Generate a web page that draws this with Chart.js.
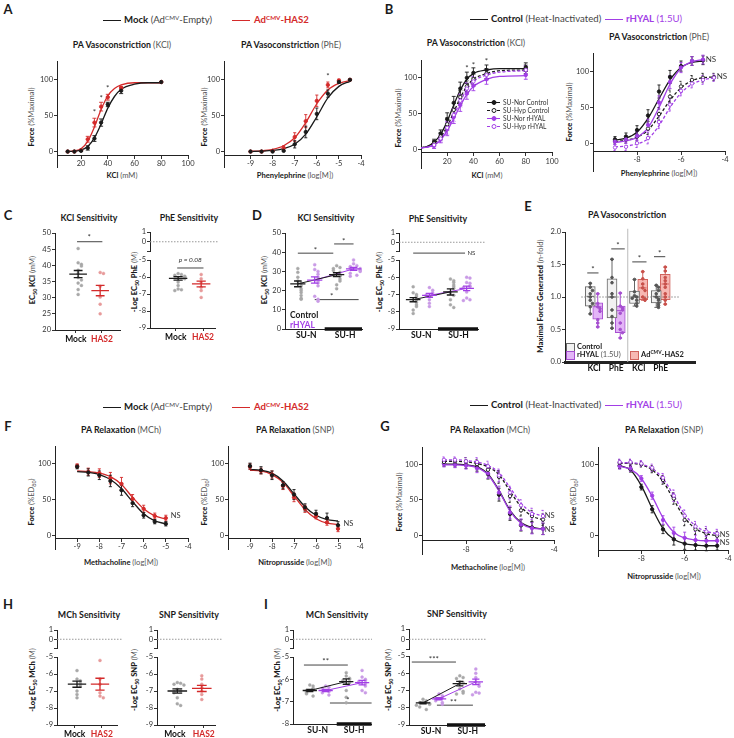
<!DOCTYPE html>
<html>
<head>
<meta charset="utf-8">
<title>PA vasoconstriction and relaxation</title>
<script src="https://cdn.jsdelivr.net/npm/chart.js@4.4.1/dist/chart.umd.min.js"></script>
<style>
  body { margin: 0; width: 734px; height: 738px; position: relative; overflow: hidden; background: #fff; font-family: Lato, "Open Sans", sans-serif; color: #1a1a1a; }
  canvas { position: absolute; }
  .t { position: absolute; white-space: nowrap; transform: translate(-50%, -50%); font-size: 8px; line-height: 1; }
  .r { transform: translate(-50%, -50%) rotate(-90deg); }
  .l { transform: translate(0, -50%); }
  .ttl { font-weight: bold; font-size: 8.8px; }
  .ttl span, .ax span { font-weight: normal; color: #555; }
  .ax { font-weight: bold; font-size: 7.6px; }
  .lt { font-weight: bold; font-size: 13px; }
  .lg { font-size: 9.6px; }
  .ln { position: absolute; height: 0; }
  sub { font-size: 70%; vertical-align: -2px; line-height: 0; }
  sup { font-size: 65%; vertical-align: 3px; line-height: 0; }
</style>
</head>
<body>
<script>
// ---------------- data ----------------
// A: Mock vs HAS2, PA vasoconstriction
const kclDoseA = [10, 15, 20, 25, 30, 35, 40, 50, 80];
const mockKclA = [0, 0, 1, 5, 18, 40, 65, 84, 96];
const mockKclAErr = [0, 0, 1, 3, 4, 5, 3, 4, 0];
const has2KclA = [0, 0, 2, 17, 40, 62, 75, 88, 96];
const has2KclAErr = [0, 0, 1, 4, 6, 6, 4, 2, 0];
const kclFitA = [10, 15, 20, 25, 30, 35, 40, 45, 50, 60, 70, 80];
const mockKclAFit = [0, 0.5, 2, 7, 19, 38, 60, 76, 86, 93, 95, 95];
const has2KclAFit = [0, 1, 4, 14, 34, 58, 77, 87, 92, 95, 95, 95];

const logDose = [-9, -8.5, -8, -7.5, -7, -6.5, -6, -5.5, -5, -4.5];
const mockPheA = [0, 0, 0, 1, 10, 27, 52, 80, 96, 99];
const mockPheAErr = [0, 0, 0, 1, 5, 8, 8, 5, 2, 1];
const has2PheA = [0, 0, 1, 5, 20, 42, 70, 92, 98, 99];
const has2PheAErr = [0, 0, 1, 3, 6, 9, 8, 4, 2, 1];
const mockPheAFit = [0, 0.5, 1.5, 4, 10, 24, 48, 74, 90, 97];
const has2PheAFit = [0.5, 1, 3, 8, 19, 40, 66, 85, 94, 98];

// B: Control vs rHYAL, SU-Nor / SU-Hyp
const kclDoseB = [10, 15, 20, 25, 30, 35, 40, 50, 80];
const norCtlKclB = [10, 22, 42, 65, 85, 100, 107, 111, 115];
const hypCtlKclB = [8, 18, 35, 55, 73, 88, 98, 106, 112];
const norRhKclB = [5, 14, 28, 45, 62, 78, 89, 98, 104];
const hypRhKclB = [6, 15, 30, 48, 68, 85, 95, 104, 111];
const kclErrB = [4, 5, 9, 9, 9, 8, 7, 7, 6];
const kclFitB = [0, 5, 10, 15, 20, 25, 30, 35, 40, 50, 60, 80];
const norCtlKclBFit = [2, 4, 10, 21, 39, 62, 83, 98, 106, 111, 113, 113];
const hypCtlKclBFit = [2, 4, 8, 17, 32, 52, 72, 88, 98, 106, 110, 111];
const norRhKclBFit = [2, 3, 6, 13, 26, 43, 61, 77, 88, 98, 102, 103];
const hypRhKclBFit = [2, 3, 6, 14, 28, 47, 67, 84, 95, 104, 108, 110];

const norCtlPheB = [6, 10, 19, 39, 72, 92, 107, 114, 115];
const norRhPheB = [3, 6, 11, 26, 57, 85, 105, 114, 116];
const hypCtlPheB = [4, 6, 10, 21, 41, 65, 79, 88, 91, 92];
const hypRhPheB = [-5, -4, 1, 8, 30, 54, 73, 83, 88, 91];
const pheErrB = [4, 5, 6, 8, 9, 9, 7, 6, 6, 5];
const norCtlPheBFit = [5, 8, 16, 35, 62, 88, 105, 112, 114];
const norRhPheBFit = [2, 4, 9, 22, 50, 82, 104, 113, 116];
const hypCtlPheBFit = [3, 5, 9, 19, 38, 60, 77, 87, 91, 92];
const hypRhPheBFit = [-4, -3, 0, 7, 25, 50, 70, 82, 88, 91];

// C: sensitivity, Mock vs HAS2
const c1Mock = [45.2, 40.8, 40.3, 39.8, 38.5, 37.5, 36.2, 35.5, 34.5, 33.8, 32.5, 31];
const c1Has2 = [37.8, 37.5, 33.5, 30.2, 28, 25];
const c1Mean = [37.3, 32.2];
const c1Sem = [1.1, 1.6];
const c2Mock = [-5.8, -5.85, -5.9, -5.95, -6.0, -6.05, -6.1, -6.3, -6.5, -6.7, -6.75, -6.8];
const c2Has2 = [-5.85, -6.1, -6.3, -6.6, -6.8, -7.2];
const c2Mean = [-6.08, -6.41];
const c2Sem = [0.1, 0.17];

// D: sensitivity, Control / rHYAL in SU-N and SU-H
const d1CtlN = [31.5, 29.5, 27, 25, 24, 22.5, 21, 20, 19, 17.5, 16, 15.5];
const d1RhN = [33.5, 31, 30, 28.5, 27, 26, 25, 24, 22.5, 17, 15.5, 14.5];
const d1CtlH = [33, 32, 31.5, 30.5, 29.5, 28, 27.5, 26, 25, 23, 21];
const d1RhH = [36, 34, 33, 32.5, 32, 31.5, 31, 30.5, 30, 29, 28, 27.5];
const d1Mean = [23.5, 25.5, 28.3, 31.3];
const d1Sem = [1.5, 1.6, 1.0, 0.8];
const d2CtlN = [-6.55, -6.9, -7.0, -7.1, -7.2, -7.3, -7.45, -7.6, -7.7, -7.9, -8.1];
const d2RhN = [-6.6, -6.75, -6.9, -7.0, -7.05, -7.3, -7.5, -7.7];
const d2CtlH = [-6.1, -6.2, -6.3, -6.45, -6.55, -6.65, -6.9, -7.05, -7.3, -7.6, -7.75];
const d2RhH = [-6.0, -6.05, -6.3, -6.35, -6.5, -6.55, -6.6, -6.85, -7.2, -7.3, -7.35];
const d2Mean = [-7.3, -7.05, -6.85, -6.65];
const d2Sem = [0.12, 0.12, 0.18, 0.13];

// E: maximal force generated (n-fold), box plots
const boxMin = [0.74, 0.54, 0.52, 0.37, 0.86, 0.95, 0.84, 0.89];
const boxQ1 = [0.86, 0.66, 0.68, 0.45, 0.90, 0.96, 0.91, 0.96];
const boxMed = [1.01, 0.85, 1.0, 0.79, 1.0, 1.14, 1.01, 1.2];
const boxQ3 = [1.16, 0.91, 1.28, 0.86, 1.09, 1.27, 1.10, 1.35];
const boxMax = [1.21, 1.05, 1.58, 1.06, 1.27, 1.39, 1.18, 1.46];
const boxPts = [
  [1.21, 1.15, 1.1, 1.05, 1.0, 0.95, 0.9, 0.85, 0.74],
  [1.05, 0.9, 0.85, 0.82, 0.78, 0.65, 0.6, 0.54],
  [1.58, 1.3, 1.22, 1.05, 1.0, 0.8, 0.7, 0.6, 0.52],
  [1.06, 0.86, 0.83, 0.8, 0.75, 0.6, 0.5, 0.45, 0.37],
  [1.27, 1.08, 1.02, 1.0, 0.98, 0.95, 0.9, 0.86],
  [1.39, 1.28, 1.2, 1.14, 1.1, 1.0, 0.97, 0.95],
  [1.18, 1.15, 1.1, 1.05, 1.0, 0.97, 0.95, 0.9, 0.87, 0.84],
  [1.46, 1.4, 1.3, 1.25, 1.2, 1.15, 1.05, 1.0, 0.95, 0.89]
];
const eLabels = ['KCl', 'PhE', 'KCl', 'PhE'];

// F: relaxation, Mock vs HAS2
const relaxDose = [-9, -8.5, -8, -7.5, -7, -6.5, -6, -5.5, -5];
const mockMchF = [96, 88, 84, 76, 63, 45, 28, 19, 16];
const mockMchFErr = [3, 5, 6, 8, 7, 5, 4, 3, 3];
const has2MchF = [97, 89, 87, 80, 72, 51, 37, 27, 24];
const has2MchFErr = [3, 5, 6, 8, 9, 6, 5, 4, 4];
const mockMchFFit = [89, 88, 85, 78, 65, 47, 30, 20, 16];
const has2MchFFit = [90, 89, 87, 82, 71, 53, 37, 27, 23];
const mockSnpF = [97, 91, 84, 70, 57, 39, 30, 24, 14];
const mockSnpFErr = [4, 5, 6, 5, 7, 5, 5, 7, 5];
const has2SnpF = [96, 90, 85, 69, 53, 37, 27, 18, 9];
const has2SnpFErr = [4, 4, 5, 5, 6, 5, 4, 4, 4];
const mockSnpFFit = [92, 91, 87, 76, 58, 40, 28, 22, 20];
const has2SnpFFit = [91, 90, 85, 74, 55, 36, 23, 17, 15];

// G: relaxation, Control vs rHYAL
const norCtlMchG = [101, 100, 99, 96, 86, 57, 30, 14, 11, 9];
const norRhMchG = [100, 99, 98, 94, 87, 60, 32, 15, 10, 9];
const hypCtlMchG = [103, 104, 104, 100, 92, 82, 55, 35, 27, 22];
const hypRhMchG = [106, 106, 104, 103, 97, 84, 60, 42, 30, 27];
const mchErrG = [4, 4, 5, 6, 7, 9, 9, 8, 8, 8];
const norCtlMchGFit = [100, 100, 99, 96, 86, 63, 35, 18, 11, 9];
const norRhMchGFit = [99, 99, 98, 95, 85, 62, 34, 17, 10, 9];
const hypCtlMchGFit = [104, 104, 103, 101, 96, 85, 62, 40, 27, 22];
const hypRhMchGFit = [106, 106, 105, 103, 98, 88, 67, 45, 32, 27];
const norCtlSnpG = [98, 93, 68, 37, 9, -5, -11, -13, -14, -14];
const norRhSnpG = [97, 94, 80, 56, 22, 4, -3, -6, -7, -7];
const hypCtlSnpG = [102, 102, 100, 93, 78, 52, 22, 9, 3, 0];
const hypRhSnpG = [103, 103, 101, 95, 81, 56, 28, 13, 6, 3];
const snpErrG = [4, 4, 4, 5, 6, 8, 8, 7, 7, 6];
const norCtlSnpGFit = [98, 92, 70, 38, 10, -5, -11, -13, -14, -14];
const norRhSnpGFit = [97, 93, 80, 55, 25, 5, -3, -6, -7, -7];
const hypCtlSnpGFit = [101, 101, 99, 92, 76, 50, 25, 10, 3, 0];
const hypRhSnpGFit = [102, 102, 100, 94, 80, 56, 30, 14, 6, 3];

// H: relaxation sensitivity, Mock vs HAS2
const h1Mock = [-5.8, -6.3, -6.4, -6.55, -6.7, -7.0, -7.2, -7.4];
const h1Has2 = [-5.2, -6.3, -6.6, -7.1, -7.3, -7.4];
const h1Mean = [-6.6, -6.6];
const h1Sem = [0.18, 0.35];
const h2Mock = [-6.5, -6.55, -6.6, -6.65, -6.9, -7.0, -7.05, -7.1, -7.4, -7.75, -7.85];
const h2Has2 = [-6.1, -6.3, -6.6, -6.8, -7.0, -7.2, -7.5];
const h2Mean = [-7.0, -6.85];
const h2Sem = [0.13, 0.18];

// I: relaxation sensitivity, Control / rHYAL
const i1CtlN = [-6.25, -6.3, -6.4, -6.45, -6.5, -6.55, -6.6, -6.65, -6.75];
const i1RhN = [-6.3, -6.35, -6.4, -6.5, -6.55, -6.6, -6.7];
const i1CtlH = [-5.7, -5.85, -5.95, -6.0, -6.05, -6.15, -6.5, -6.8, -7.05];
const i1RhH = [-5.6, -5.9, -6.0, -6.05, -6.1, -6.2, -6.3, -6.5, -6.6];
const i1Mean = [-6.5, -6.5, -6.1, -6.15];
const i1Sem = [0.05, 0.05, 0.12, 0.1];
const i2CtlN = [-7.5, -7.6, -7.7, -7.7, -7.75, -7.8, -7.85, -7.95, -8.1];
const i2RhN = [-7.2, -7.3, -7.4, -7.45, -7.5, -7.6, -7.7, -7.8];
const i2CtlH = [-6.15, -6.25, -6.3, -6.5, -6.55, -6.9, -7.05, -7.15, -7.2];
const i2RhH = [-5.75, -6.0, -6.25, -6.5, -6.6, -6.75, -7.1, -7.15, -7.25];
const i2Mean = [-7.72, -7.48, -6.6, -6.5];
const i2Sem = [0.05, 0.06, 0.13, 0.16];

// ---------------- helpers ----------------
const BLK = '#1a1a1a', RED = '#d42a2a', PUR = '#a23ee6';
const GRY_PT = '#a8a8a8', RED_PT = '#e79a9a', PUR_PT = '#c99be6';

Chart.defaults.font.family = 'Lato';
Chart.register({
  id: 'notes',
  afterDatasetsDraw(chart) {
    const items = chart.canvas._notes || [];
    const ctx = chart.ctx, xs = chart.scales.x, ys = chart.scales.y;
    ctx.save();
    items.forEach(n => {
      ctx.font = (n.w || '') + ' ' + (n.s || 8) + 'px Lato';
      ctx.fillStyle = n.c || '#333';
      ctx.textAlign = n.a || 'center';
      ctx.textBaseline = 'middle';
      ctx.fillText(n.t, xs.getPixelForValue(n.x), ys.getPixelForValue(n.y));
    });
    ctx.restore();
  }
});

function txt(html, x, y, cls, size) {
  const d = document.createElement('div');
  d.className = 't ' + (cls || '');
  d.innerHTML = html;
  d.style.left = x + 'px';
  d.style.top = y + 'px';
  if (size) d.style.fontSize = size + 'px';
  document.body.appendChild(d);
  return d;
}
function hline(x1, x2, y, color, dash) {
  const d = document.createElement('div');
  d.className = 'ln';
  d.style.cssText += `left:${x1}px;top:${y}px;width:${x2 - x1}px;border-top:1.4px ${dash ? 'dashed' : 'solid'} ${color}`;
  document.body.appendChild(d);
}

const YW = 22;
function plot(area, o) {
  const [l, t, r, b] = area;
  const pt = o.pt ?? 8, pr = o.pr ?? 10, pb = o.pb ?? 0;
  const xH = (o.xAt === undefined && !o.noX) ? (o.xH ?? 15) : 0;
  const w = r - l + YW + pr, h = b - t + pt + xH + pb;
  const c = document.createElement('canvas');
  c.width = w; c.height = h;
  Object.assign(c.style, {left: (l - YW) + 'px', top: (t - pt) + 'px', width: w + 'px', height: h + 'px'});
  c._notes = o.notes || [];
  document.body.appendChild(c);
  const tf = {size: 7.5};
  return new Chart(c, {
    type: 'scatter',
    data: {datasets: o.datasets},
    options: {
      responsive: false,
      animation: false,
      layout: {padding: {top: pt, right: pr, bottom: pb, left: 0}},
      plugins: {legend: {display: false}, tooltip: {enabled: false}},
      scales: {
        x: {
          type: 'linear', min: o.x[0], max: o.x[1], display: !o.noX,
          position: o.xAt === undefined ? 'bottom' : {y: o.xAt},
          afterBuildTicks: s => { s.ticks = (o.xTicks || []).map(v => ({value: v})); },
          afterFit: s => { if (o.xAt === undefined) s.height = xH; },
          grid: {drawOnChartArea: false, tickLength: o.xTickLen ?? 3, color: '#333'},
          border: {color: '#222', width: o.xBorder || 1},
          ticks: {font: o.xFont || tf, color: o.xColor || '#333', padding: 1, maxRotation: 0, autoSkip: false,
                  callback: o.xLabel || (v => v)}
        },
        y: {
          type: 'linear', min: o.y[0], max: o.y[1],
          afterBuildTicks: s => { s.ticks = o.yTicks.map(v => ({value: v})); },
          afterFit: s => { s.width = YW; },
          grid: {drawOnChartArea: false, tickLength: 3, color: '#333'},
          border: {color: '#222'},
          ticks: {font: tf, color: '#333', padding: 1, autoSkip: false, callback: o.yLabel || (v => String(v))}
        }
      }
    }
  });
}

const P = (xs, ys) => xs.map((x, i) => ({x, y: ys[i]})).filter(p => p.y !== undefined);
function fitLine(xs, ys, color, dash) {
  return {data: P(xs, ys), showLine: true, borderColor: color, borderWidth: 1.3, borderDash: dash ? [3, 2] : [],
          pointRadius: 0, cubicInterpolationMode: 'monotone', order: 3};
}
function errBars(xs, ys, es, color, cap, dash) {
  const d = [];
  xs.forEach((x, i) => {
    if (ys[i] === undefined || !es[i]) return;
    const lo = ys[i] - es[i], hi = ys[i] + es[i];
    d.push({x, y: lo}, {x, y: hi}, {x, y: null},
           {x: x - cap, y: hi}, {x: x + cap, y: hi}, {x, y: null},
           {x: x - cap, y: lo}, {x: x + cap, y: lo}, {x, y: null});
  });
  return {data: d, showLine: true, spanGaps: false, borderColor: color, borderWidth: 0.9,
          borderDash: dash ? [2, 1.5] : [], pointRadius: 0, order: 1};
}
function dots(xs, ys, color, open) {
  return {data: P(xs, ys), pointRadius: 1.7, pointBackgroundColor: open ? '#fff' : color,
          pointBorderColor: color, pointBorderWidth: 0.9, order: 0};
}
function seg(x1, x2, y, color, w, dash) {
  return {data: [{x: x1, y}, {x: x2, y}], showLine: true, borderColor: color || '#444', borderWidth: w || 1,
          borderDash: dash || [], pointRadius: 0, clip: false, order: 4};
}
function link(x1, y1, x2, y2, color) {
  return {data: [{x: x1, y: y1}, {x: x2, y: y2}], showLine: true, borderColor: color, borderWidth: 1, pointRadius: 0, order: 1};
}

function dose(area, o, groups) {
  const ds = [];
  groups.forEach(g => {
    ds.push(fitLine(g.fx, g.fy, g.c, g.dash));
    ds.push(errBars(g.x, g.y, g.e, g.c, o.cap, g.dash));
    ds.push(dots(g.x, g.y, g.c, g.open));
  });
  return plot(area, Object.assign({}, o, {datasets: ds}));
}

function swarm(vals, tol, dx) {
  const placed = [];
  return vals.map(v => {
    const k = placed.filter(p => Math.abs(p - v) < tol).length;
    placed.push(v);
    return k === 0 ? 0 : (k % 2 ? 1 : -1) * Math.ceil(k / 2) * dx;
  });
}
function dotPanel(area, o) {
  const [l, t, r, b] = area;
  const tol = 3.2 * (o.y[1] - o.y[0]) / (b - t);
  const dx = 3.3 * (o.x[1] - o.x[0]) / (r - l);
  const mw = o.mw || 0.4, cw = mw / 2;
  const ds = [];
  o.groups.forEach(g => {
    const off = swarm(g.v, tol, dx);
    ds.push({data: g.v.map((v, i) => ({x: g.x + off[i], y: v})), pointRadius: 1.5,
             pointBackgroundColor: g.pc, pointBorderColor: g.pc, pointBorderWidth: 0.4, order: 2});
    const x = g.x, m = g.m, s = g.s;
    ds.push({data: [{x: x - mw, y: m}, {x: x + mw, y: m}, {x, y: null},
                    {x, y: m - s}, {x, y: m + s}, {x, y: null},
                    {x: x - cw, y: m + s}, {x: x + cw, y: m + s}, {x, y: null},
                    {x: x - cw, y: m - s}, {x: x + cw, y: m - s}],
             showLine: true, spanGaps: false, borderColor: g.lc, borderWidth: 1.3, pointRadius: 0, order: 0});
  });
  (o.extra || []).forEach(d => ds.push(d));
  return plot(area, Object.assign({}, o, {datasets: ds}));
}
function topCap(area) {
  return plot(area, {x: [0, 1], y: [-1, 1], noX: true, yTicks: [1, 0, -1], pt: 6, pb: 4, pr: 2,
                     yLabel: v => (v === -1 ? '' : String(v)),
                     datasets: [seg(0, 1, 0, '#999', 1, [1.5, 1.5])]});
}
const mhFont = {size: 8.5, weight: 'bold'};
const mhColor = c => (c.index === 1 ? RED : '#111');
const mhLabel = v => (v < 1.5 ? 'Mock' : 'HAS2');
const mhTicks = [0.9, 2.08];
const suLabel = v => (v < 2.5 ? 'SU-N' : 'SU-H');

// ---------------- panel letters, titles, legends ----------------
[['A', 8, 9], ['B', 389, 9], ['C', 8, 215], ['D', 257, 215], ['E', 528, 206],
 ['F', 8, 426], ['G', 385, 426], ['H', 8, 604], ['I', 266, 604]].forEach(p => txt(p[0], p[1], p[2], 'lt'));

function legendMH(y) {
  hline(103, 121, y, BLK);
  txt('<b>Mock</b> <span style="color:#444">(Ad<sup>CMV</sup>-Empty)</span>', 124, y, 'l lg');
  hline(232, 250, y, RED);
  txt('<b style="color:' + RED + '">Ad<sup>CMV</sup>-HAS2</b>', 254, y, 'l lg');
}
function legendRH(y) {
  hline(470, 488, y, BLK);
  txt('<b>Control</b> <span style="color:#444">(Heat-Inactivated)</span>', 491, y, 'l lg');
  hline(605, 623, y, PUR);
  txt('<span style="color:' + PUR + '"><b>rHYAL</b> (1.5U)</span>', 626, y, 'l lg');
}
legendMH(20); legendRH(19); legendMH(407); legendRH(405);

const titles = [
  ['PA Vasoconstriction <span>(KCl)</span>', 122, 45], ['PA Vasoconstriction <span>(PhE)</span>', 291, 45],
  ['PA Vasoconstriction <span>(KCl)</span>', 476, 43], ['PA Vasoconstriction <span>(PhE)</span>', 659, 37],
  ['KCl Sensitivity', 89, 218], ['PhE Sensitivity', 189, 218], ['KCl Sensitivity', 326, 218],
  ['PhE Sensitivity', 438, 219], ['PA Vasoconstriction', 627, 215],
  ['PA Relaxation <span>(MCh)</span>', 121, 430], ['PA Relaxation <span>(SNP)</span>', 295, 430],
  ['PA Relaxation <span>(MCh)</span>', 490, 430], ['PA Relaxation <span>(SNP)</span>', 664, 430],
  ['MCh Sensitivity', 89, 615], ['SNP Sensitivity', 189, 615], ['MCh Sensitivity', 337, 615],
  ['SNP Sensitivity', 457, 614]
];
titles.forEach(t => txt(t[0], t[1], t[2], 'ttl'));

const xTitles = [
  ['KCl <span>(mM)</span>', 122, 176], ['Phenylephrine <span>(log[M])</span>', 295, 176],
  ['KCl <span>(mM)</span>', 487, 176], ['Phenylephrine <span>(log[M])</span>', 659, 174],
  ['Methacholine <span>(log[M])</span>', 121, 563], ['Nitroprusside <span>(log[M])</span>', 295, 563],
  ['Methacholine <span>(log[M])</span>', 488, 568], ['Nitroprusside <span>(log[M])</span>', 664, 577]
];
xTitles.forEach(t => txt(t[0], t[1], t[2], 'ax'));

const ec = (drug, unit) => '<b>EC<sub>50</sub> ' + drug + '</b> <span>(' + unit + ')</span>';
const lg = drug => '<b>-Log EC<sub>50</sub> ' + drug + '</b> <span>(M)</span>';
const yTitles = [
  ['<b>Force</b> <span>(%Maximal)</span>', 32, 117], ['<b>Force</b> <span>(%Maximal)</span>', 205, 117],
  ['<b>Force</b> <span>(%Maximal)</span>', 399, 118], ['<b>Force</b> <span>(%Maximal)</span>', 570, 112],
  [ec('KCl', 'mM'), 33, 280], [lg('PhE'), 135, 282], [ec('KCl', 'mM'), 265, 280], [lg('PhE'), 380, 282],
  ['<b>Maximal Force Generated</b> <span>(n-fold)</span>', 541, 296],
  ['<b>Force</b> <span>(%ED<sub>80</sub>)</span>', 32, 502], ['<b>Force</b> <span>(%ED<sub>80</sub>)</span>', 205, 502],
  ['<b>Force</b> <span>(%Maximal)</span>', 400, 502], ['<b>Force</b> <span>(%ED<sub>80</sub>)</span>', 574, 502],
  [lg('MCh'), 33, 680], [lg('SNP'), 135, 680], [lg('MCh'), 278, 680], [lg('SNP'), 389, 680]
];
yTitles.forEach(t => txt(t[0], t[1], t[2], 'ax r'));

// ---------------- A ----------------
dose([57, 61, 188, 173], {x: [2, 100], y: [-22, 125], xAt: -5, xTicks: [20, 40, 60, 80, 100], yTicks: [0, 50, 100], cap: 1.5,
  notes: [{x: 30, y: 54, t: '*'}, {x: 35, y: 74, t: '*'}, {x: 40, y: 87, t: '*'}]}, [
  {fx: kclFitA, fy: mockKclAFit, x: kclDoseA, y: mockKclA, e: mockKclAErr, c: BLK},
  {fx: kclFitA, fy: has2KclAFit, x: kclDoseA, y: has2KclA, e: has2KclAErr, c: RED}
]);
dose([224, 61, 361, 173], {x: [-10.2, -4], y: [-22, 125], xAt: -5, xTicks: [-9, -8, -7, -6, -5, -4], yTicks: [0, 50, 100], cap: 0.07,
  notes: [{x: -5.5, y: 104, t: '*'}]}, [
  {fx: logDose, fy: mockPheAFit, x: logDose, y: mockPheA, e: mockPheAErr, c: BLK},
  {fx: logDose, fy: has2PheAFit, x: logDose, y: has2PheA, e: has2PheAErr, c: RED}
]);

// ---------------- B ----------------
dose([421, 60, 552, 174], {x: [0, 100], y: [-27, 125], xAt: -5, xTicks: [20, 40, 60, 80, 100], yTicks: [0, 50, 100], cap: 1.5,
  notes: [{x: 35, y: 113, t: '*'}, {x: 40, y: 118, t: '*'}, {x: 50, y: 123, t: '*'}]}, [
  {fx: kclFitB, fy: hypRhKclBFit, x: kclDoseB, y: hypRhKclB, e: kclErrB, c: PUR, dash: true, open: true},
  {fx: kclFitB, fy: norRhKclBFit, x: kclDoseB, y: norRhKclB, e: kclErrB, c: PUR},
  {fx: kclFitB, fy: hypCtlKclBFit, x: kclDoseB, y: hypCtlKclB, e: kclErrB, c: BLK, dash: true, open: true},
  {fx: kclFitB, fy: norCtlKclBFit, x: kclDoseB, y: norCtlKclB, e: kclErrB, c: BLK}
]);
// inner legend of B
[['SU-Nor Control', BLK, false], ['SU-Hyp Control', BLK, true], ['SU-Nor rHYAL', PUR, false], ['SU-Hyp rHYAL', PUR, true]]
  .forEach((e, i) => {
    const y = 102 + i * 8;
    hline(487, 500, y, e[1], e[2]);
    txt('<span style="display:inline-block;width:3px;height:3px;border-radius:50%;border:1px solid ' + e[1] + ';background:' + (e[2] ? '#fff' : e[1]) + '"></span>', 493.5, y, '');
    txt(e[0], 503, y, 'l', 6.6).style.color = '#333';
  });
dose([593, 53, 725, 177], {x: [-10, -4], y: [-38, 125], xAt: -10, xTicks: [-8, -6, -4], yTicks: [0, 50, 100], cap: 0.07, pr: 9,
  notes: [{x: -4.88, y: 116, t: 'NS', a: 'left'}, {x: -4.38, y: 93, t: 'NS', a: 'left'}]}, [
  {fx: logDose, fy: hypRhPheBFit, x: logDose, y: hypRhPheB, e: pheErrB, c: PUR, dash: true, open: true},
  {fx: logDose, fy: norRhPheBFit, x: logDose, y: norRhPheB, e: pheErrB, c: PUR},
  {fx: logDose, fy: hypCtlPheBFit, x: logDose, y: hypCtlPheB, e: pheErrB, c: BLK, dash: true, open: true},
  {fx: logDose, fy: norCtlPheBFit, x: logDose, y: norCtlPheB, e: pheErrB, c: BLK}
]);

// ---------------- C ----------------
dotPanel([55, 233, 120, 330], {x: [-0.05, 2.9], y: [20, 50], yTicks: [20, 25, 30, 35, 40, 45, 50],
  xTicks: mhTicks, xLabel: mhLabel, xFont: mhFont, xColor: mhColor,
  groups: [{x: 1, v: c1Mock, m: c1Mean[0], s: c1Sem[0], pc: GRY_PT, lc: BLK},
           {x: 2, v: c1Has2, m: c1Mean[1], s: c1Sem[1], pc: RED_PT, lc: RED}],
  extra: [seg(0.95, 2.1, 47.3)], notes: [{x: 1.5, y: 48.6, t: '*'}]});
topCap([150, 232, 218, 253]);
dotPanel([150, 260, 215, 328], {x: [-0.22, 2.6], y: [-9, -5], yTicks: [-9, -8, -7, -6, -5],
  xTicks: mhTicks, xLabel: mhLabel, xFont: mhFont, xColor: mhColor, pt: 10,
  groups: [{x: 1, v: c2Mock, m: c2Mean[0], s: c2Sem[0], pc: GRY_PT, lc: BLK},
           {x: 2, v: c2Has2, m: c2Mean[1], s: c2Sem[1], pc: RED_PT, lc: RED}],
  extra: [seg(0.96, 2.1, -5.47)], notes: [{x: 1.53, y: -5.0, t: 'p = 0.08', s: 6.5, w: 'italic'}]});

// ---------------- D ----------------
const suBar = (a, b, y) => seg(a, b, y, '#111', 3.5);
dotPanel([285, 233, 362, 329], {x: [0.24, 4.8], y: [0, 50], yTicks: [0, 10, 20, 30, 40, 50], mw: 0.45,
  xTicks: [1.5, 3.8], xLabel: suLabel, xFont: {size: 8.5, weight: 'bold'}, xColor: '#111', xTickLen: 0,
  groups: [{x: 1, v: d1CtlN, m: d1Mean[0], s: d1Sem[0], pc: GRY_PT, lc: BLK},
           {x: 2, v: d1RhN, m: d1Mean[1], s: d1Sem[1], pc: PUR_PT, lc: PUR},
           {x: 3.3, v: d1CtlH, m: d1Mean[2], s: d1Sem[2], pc: GRY_PT, lc: BLK},
           {x: 4.3, v: d1RhH, m: d1Mean[3], s: d1Sem[3], pc: PUR_PT, lc: PUR}],
  extra: [link(1, d1Mean[0], 3.3, d1Mean[2], BLK), link(2, d1Mean[1], 4.3, d1Mean[3], PUR),
          seg(1.0, 3.1, 39.5), seg(3.15, 4.3, 44.3), seg(2.0, 4.6, 15.3), suBar(2.59, 4.8, 0)],
  notes: [{x: 2.05, y: 41, t: '*'}, {x: 3.72, y: 45.8, t: '*'}, {x: 3.0, y: 16.8, t: '*'}]});
txt('<b>Control</b>', 290, 315, 'l', 8.5);
txt('<b style="color:' + PUR + '">rHYAL</b>', 290, 325, 'l', 8.5);
topCap([399, 233, 485, 253]);
dotPanel([399, 260, 478, 329], {x: [0.125, 5], y: [-9, -5], yTicks: [-9, -8, -7, -6, -5], mw: 0.45, pt: 10,
  xTicks: [1.5, 3.8], xLabel: suLabel, xFont: {size: 8.5, weight: 'bold'}, xColor: '#111', xTickLen: 0,
  groups: [{x: 1, v: d2CtlN, m: d2Mean[0], s: d2Sem[0], pc: GRY_PT, lc: BLK},
           {x: 2, v: d2RhN, m: d2Mean[1], s: d2Sem[1], pc: PUR_PT, lc: PUR},
           {x: 3.3, v: d2CtlH, m: d2Mean[2], s: d2Sem[2], pc: GRY_PT, lc: BLK},
           {x: 4.3, v: d2RhH, m: d2Mean[3], s: d2Sem[3], pc: PUR_PT, lc: PUR}],
  extra: [link(1, d2Mean[0], 3.3, d2Mean[2], BLK), link(2, d2Mean[1], 4.3, d2Mean[3], PUR),
          seg(1.0, 4.2, -4.6), suBar(2.53, 5, -9)],
  notes: [{x: 4.35, y: -4.6, t: 'NS', a: 'left', s: 6}]});

// ---------------- E ----------------
const boxX = [1.2, 2.2, 4.1, 5.2, 7.1, 8.2, 10.0, 11.2];
const boxKind = [0, 1, 0, 1, 0, 2, 0, 2];
const boxFill = ['#f2f2f2', '#e3b5f7', '#f7b7b2'], boxLine = ['#666', '#a64fd0', '#d0625c'], boxPt = ['#555', '#a64fd0', '#c8504a'];
const eDs = [];
[0, 1, 2].forEach(k => {
  const idx = boxX.map((x, i) => i).filter(i => boxKind[i] === k);
  eDs.push({type: 'bar', data: idx.map(i => ({x: boxX[i], y: [boxQ1[i], boxQ3[i]]})), barThickness: 10, grouped: false,
            backgroundColor: boxFill[k], borderColor: boxLine[k], borderWidth: 1, borderSkipped: false, order: 5});
  const wd = [];
  idx.forEach(i => {
    const x = boxX[i];
    wd.push({x, y: boxMin[i]}, {x, y: boxQ1[i]}, {x, y: null}, {x, y: boxQ3[i]}, {x, y: boxMax[i]}, {x, y: null},
            {x: x - 0.25, y: boxMin[i]}, {x: x + 0.25, y: boxMin[i]}, {x, y: null},
            {x: x - 0.25, y: boxMax[i]}, {x: x + 0.25, y: boxMax[i]}, {x, y: null},
            {x: x - 0.5, y: boxMed[i]}, {x: x + 0.5, y: boxMed[i]}, {x, y: null});
  });
  eDs.push({data: wd, showLine: true, spanGaps: false, borderColor: boxLine[k], borderWidth: 1, pointRadius: 0, order: 1});
  idx.forEach(i => {
    const off = swarm(boxPts[i], 0.05, 0.3);
    eDs.push({data: boxPts[i].map((v, j) => ({x: boxX[i] + off[j], y: v})), pointRadius: 1.3,
              pointBackgroundColor: boxPt[k], pointBorderColor: boxPt[k], order: 0});
  });
});
eDs.push(seg(0, 13, 1, '#888', 1, [1.5, 1.5]));
eDs.push({data: [{x: 6.2, y: 0}, {x: 6.2, y: 2.05}], showLine: true, borderColor: '#bbb', borderWidth: 1, pointRadius: 0, clip: false, order: 6});
eDs.push(seg(0.8, 2.3, 1.37), seg(4.0, 5.8, 1.74), seg(6.8, 8.7, 1.54), seg(9.7, 11.2, 1.62));
plot([565, 232, 695, 362], {x: [0, 13], y: [0, 2], yTicks: [0, 0.5, 1, 1.5, 2], yLabel: v => v.toFixed(1),
  xTicks: [1.7, 4.65, 7.65, 10.6], xLabel: (v, i) => eLabels[i], xFont: {size: 8.5, weight: 'bold'}, xColor: '#111',
  xTickLen: 0, xBorder: 3, xH: 16, datasets: eDs,
  notes: [{x: 1.55, y: 1.42, t: '*'}, {x: 4.9, y: 1.79, t: '*'}, {x: 7.75, y: 1.59, t: '*'}, {x: 10.45, y: 1.67, t: '*'}]});
function eKey(x, y, k, html) {
  const d = document.createElement('div');
  d.className = 'ln';
  d.style.cssText += `left:${x}px;top:${y - 4}px;width:7px;height:7px;background:${boxFill[k]};border:1px solid ${boxLine[k]}`;
  document.body.appendChild(d);
  txt(html, x + 11, y, 'l', 7.5);
}
eKey(566, 347, 0, '<b>Control</b>');
eKey(566, 355, 1, '<b>rHYAL</b> <span style="color:#555">(1.5U)</span>');
eKey(630, 355, 2, '<b>Ad<sup>CMV</sup>-HAS2</b>');

// ---------------- F ----------------
dose([55, 446, 188, 555], {x: [-10, -4], y: [-20, 125], xAt: -4, xTicks: [-9, -8, -7, -6, -5, -4], yTicks: [0, 50, 100], cap: 0.07,
  notes: [{x: -4.78, y: 27, t: 'NS', a: 'left', s: 7.5}]}, [
  {fx: relaxDose, fy: mockMchFFit, x: relaxDose, y: mockMchF, e: mockMchFErr, c: BLK},
  {fx: relaxDose, fy: has2MchFFit, x: relaxDose, y: has2MchF, e: has2MchFErr, c: RED}
]);
dose([228, 446, 360, 555], {x: [-10, -4], y: [-20, 125], xAt: -4, xTicks: [-9, -8, -7, -6, -5, -4], yTicks: [0, 50, 100], cap: 0.07,
  notes: [{x: -4.75, y: 17, t: 'NS', a: 'left', s: 7.5}]}, [
  {fx: relaxDose, fy: mockSnpFFit, x: relaxDose, y: mockSnpF, e: mockSnpFErr, c: BLK},
  {fx: relaxDose, fy: has2SnpFFit, x: relaxDose, y: has2SnpF, e: has2SnpFErr, c: RED}
]);

// ---------------- G ----------------
dose([422, 447, 554, 560], {x: [-10, -4], y: [-27, 124], xAt: -8, xTicks: [-8, -6, -4], yTicks: [0, 50, 100], cap: 0.07,
  notes: [{x: -4.42, y: 27, t: 'NS', a: 'left', s: 7.5}, {x: -4.42, y: 8, t: 'NS', a: 'left', s: 7.5}]}, [
  {fx: logDose, fy: hypRhMchGFit, x: logDose, y: hypRhMchG, e: mchErrG, c: PUR, dash: true, open: true},
  {fx: logDose, fy: hypCtlMchGFit, x: logDose, y: hypCtlMchG, e: mchErrG, c: BLK, dash: true, open: true},
  {fx: logDose, fy: norRhMchGFit, x: logDose, y: norRhMchG, e: mchErrG, c: PUR},
  {fx: logDose, fy: norCtlMchGFit, x: logDose, y: norCtlMchG, e: mchErrG, c: BLK}
]);
dose([598, 447, 728, 562], {x: [-10, -4], y: [-29, 124], xAt: -20, xTicks: [-8, -6, -4], yTicks: [0, 50, 100], cap: 0.07, pr: 6,
  notes: [{x: -4.38, y: 2, t: 'NS', a: 'left', s: 7.5}, {x: -4.38, y: -9, t: 'NS', a: 'left', s: 7.5}]}, [
  {fx: logDose, fy: hypRhSnpGFit, x: logDose, y: hypRhSnpG, e: snpErrG, c: PUR, dash: true, open: true},
  {fx: logDose, fy: hypCtlSnpGFit, x: logDose, y: hypCtlSnpG, e: snpErrG, c: BLK, dash: true, open: true},
  {fx: logDose, fy: norRhSnpGFit, x: logDose, y: norRhSnpG, e: snpErrG, c: PUR},
  {fx: logDose, fy: norCtlSnpGFit, x: logDose, y: norCtlSnpG, e: snpErrG, c: BLK}
]);

// ---------------- H ----------------
topCap([57, 630, 122, 650]);
dotPanel([57, 657, 117, 725], {x: [0.13, 2.74], y: [-9, -5], yTicks: [-9, -8, -7, -6, -5],
  xTicks: mhTicks, xLabel: mhLabel, xFont: mhFont, xColor: mhColor, xH: 13,
  groups: [{x: 1, v: h1Mock, m: h1Mean[0], s: h1Sem[0], pc: GRY_PT, lc: BLK},
           {x: 2, v: h1Has2, m: h1Mean[1], s: h1Sem[1], pc: RED_PT, lc: RED}]});
topCap([157, 630, 222, 650]);
dotPanel([157, 657, 215, 725], {x: [0.17, 2.54], y: [-9, -5], yTicks: [-9, -8, -7, -6, -5],
  xTicks: mhTicks, xLabel: mhLabel, xFont: mhFont, xColor: mhColor, xH: 13,
  groups: [{x: 1, v: h2Mock, m: h2Mean[0], s: h2Sem[0], pc: GRY_PT, lc: BLK},
           {x: 2, v: h2Has2, m: h2Mean[1], s: h2Sem[1], pc: RED_PT, lc: RED}]});

// ---------------- I ----------------
topCap([293, 630, 372, 650]);
dotPanel([293, 657, 372, 724], {x: [-0.06, 4.9], y: [-8, -5], yTicks: [-8, -7, -6, -5], mw: 0.45, pr: 4,
  xTicks: [1.5, 3.8], xLabel: suLabel, xFont: {size: 8.5, weight: 'bold'}, xColor: '#111', xTickLen: 0, xH: 13,
  groups: [{x: 1, v: i1CtlN, m: i1Mean[0], s: i1Sem[0], pc: GRY_PT, lc: BLK},
           {x: 2, v: i1RhN, m: i1Mean[1], s: i1Sem[1], pc: PUR_PT, lc: PUR},
           {x: 3.3, v: i1CtlH, m: i1Mean[2], s: i1Sem[2], pc: GRY_PT, lc: BLK},
           {x: 4.3, v: i1RhH, m: i1Mean[3], s: i1Sem[3], pc: PUR_PT, lc: PUR}],
  extra: [link(1, i1Mean[0], 3.3, i1Mean[2], BLK), link(2, i1Mean[1], 4.3, i1Mean[3], PUR),
          seg(0.63, 3.4, -5.36), seg(2.27, 4.9, -7.06), suBar(2.7, 4.9, -8)],
  notes: [{x: 2.0, y: -5.22, t: '**'}, {x: 3.4, y: -6.93, t: '*'}]});
topCap([409, 629, 487, 651]);
dotPanel([409, 656, 485, 725], {x: [0.125, 4.875], y: [-9, -5], yTicks: [-9, -8, -7, -6, -5], mw: 0.45,
  xTicks: [1.5, 3.8], xLabel: suLabel, xFont: {size: 8.5, weight: 'bold'}, xColor: '#111', xTickLen: 0, xH: 13,
  groups: [{x: 1, v: i2CtlN, m: i2Mean[0], s: i2Sem[0], pc: GRY_PT, lc: BLK},
           {x: 2, v: i2RhN, m: i2Mean[1], s: i2Sem[1], pc: PUR_PT, lc: PUR},
           {x: 3.3, v: i2CtlH, m: i2Mean[2], s: i2Sem[2], pc: GRY_PT, lc: BLK},
           {x: 4.3, v: i2RhH, m: i2Mean[3], s: i2Sem[3], pc: PUR_PT, lc: PUR}],
  extra: [link(1, i2Mean[0], 3.3, i2Mean[2], BLK), link(2, i2Mean[1], 4.3, i2Mean[3], PUR),
          seg(0.3, 3.06, -5.35), seg(1.87, 4.12, -7.85), suBar(2.5, 4.875, -9)],
  notes: [{x: 1.68, y: -5.22, t: '***'}, {x: 2.9, y: -7.72, t: '**'}]});
</script>
</body>
</html>
